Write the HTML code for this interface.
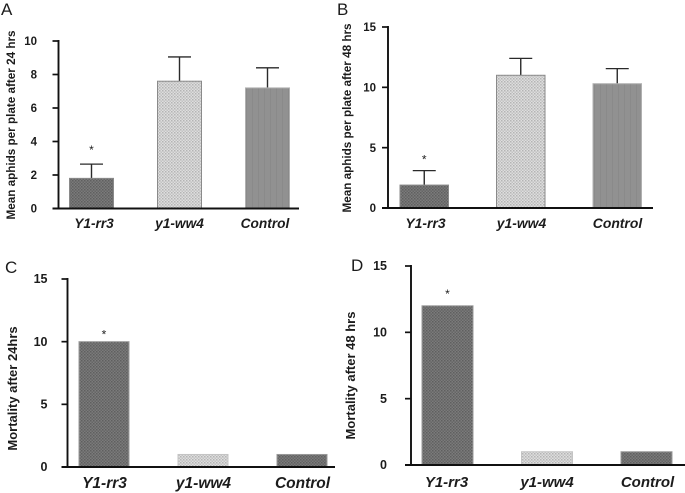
<!DOCTYPE html>
<html lang="en">
<head>
<meta charset="utf-8">
<title>Aphid counts and mortality</title>
<style>
html,body{margin:0;padding:0;background:#fff}
svg{display:block;filter:blur(0.35px)}
text{font-family:"Liberation Sans",sans-serif;fill:#1c1c1c}
.tick{font-weight:700;text-anchor:end}
.cat{font-weight:700;font-style:italic;text-anchor:middle}
.title{font-weight:700;text-anchor:middle}
.letter{font-size:17px}
.star{font-size:12px;text-anchor:middle}
</style>
</head>
<body>
<svg id="fig" width="685" height="493" viewBox="0 0 685 493" xmlns="http://www.w3.org/2000/svg">
<defs>
<pattern id="p-dark" width="3" height="3" patternUnits="userSpaceOnUse"><rect width="3" height="3" fill="#7b7b7b"/><rect x="0" y="0" width="1.5" height="1.5" fill="#5f5f5f"/><rect x="1.5" y="1.5" width="1.5" height="1.5" fill="#666"/></pattern>
<pattern id="p-light" width="3" height="3" patternUnits="userSpaceOnUse"><rect width="3" height="3" fill="#dedede"/><rect x="0" y="0" width="1.5" height="1.5" fill="#b4b4b4"/><rect x="1.5" y="1.5" width="1.5" height="1.5" fill="#c2c2c2"/></pattern>
<pattern id="p-mid" width="6" height="6" patternUnits="userSpaceOnUse"><rect width="6" height="6" fill="#919191"/><rect x="0" y="0" width="1" height="6" fill="#8a8a8a"/></pattern>
</defs>
</svg>
<script>
const categories = ['Y1-rr3', 'y1-ww4', 'Control'];
const valuesA = [1.8, 7.6, 7.2];
const errorTopsA = [2.65, 9.05, 8.4];
const ticksA = [0, 2, 4, 6, 8, 10];
const valuesB = [1.9, 11, 10.3];
const errorTopsB = [3.1, 12.4, 11.55];
const ticksB = [0, 5, 10, 15];
const valuesC = [10, 1, 1];
const ticksC = [0, 5, 10, 15];
const valuesD = [12, 1, 1];
const ticksD = [0, 5, 10, 15];

const NS = 'http://www.w3.org/2000/svg';
const fig = document.getElementById('fig');

function add(parent, tag, attrs, text) {
  const el = document.createElementNS(NS, tag);
  for (const k in attrs) el.setAttribute(k, attrs[k]);
  if (text !== undefined) el.textContent = text;
  parent.appendChild(el);
  return el;
}

function drawPanel(cfg) {
  const g = add(fig, 'g', {});
  
  

  const maxTick = cfg.ticks[cfg.ticks.length - 1];
  const yScale = v => cfg.y0 - (v / maxTick) * (cfg.y0 - cfg.yTop);
  const barX = i => cfg.barStart + i * cfg.barStep;
  const barMid = i => barX(i) + cfg.barW / 2;

  const letter = add(g, 'text', {class: 'letter', x: cfg.letterX, y: cfg.letterY}, cfg.letter);
  
  

  cfg.values.forEach((v, i) => {
    if (cfg.errors) {
      const stem = add(g, 'line', {x1: barMid(i), x2: barMid(i), y1: yScale(v), y2: yScale(cfg.errors[i]), stroke: '#2a2a2a', 'stroke-width': 1.4});
      
      
      const cap = add(g, 'line', {x1: barMid(i) - 11.5, x2: barMid(i) + 11.5, y1: yScale(cfg.errors[i]), y2: yScale(cfg.errors[i]), stroke: '#2a2a2a', 'stroke-width': 1.3});
      
      
    }
    const bar = add(g, 'rect', {
      x: barX(i), y: yScale(v), width: cfg.barW, height: cfg.y0 - yScale(v),
      fill: 'url(#' + cfg.fills[i] + ')', stroke: cfg.strokes[i], 'stroke-width': 1
    });
    
    

    const cat = add(g, 'text', {class: 'cat', x: cfg.catStart + i * cfg.catStep, y: cfg.catY, style: 'font-size:' + cfg.catSize + 'px'}, categories[i]);
    
    
  });

  const star = add(g, 'text', {class: 'star', x: barMid(0), y: yScale(cfg.errors ? cfg.errors[0] : cfg.values[0]) - cfg.starGap}, '*');
  
  

  const yAxis = add(g, 'line', {x1: cfg.axisX, x2: cfg.axisX, y1: cfg.yTop - 1, y2: cfg.y0 + 1, stroke: '#111', 'stroke-width': 1.9});
  
  
  const xAxis = add(g, 'line', {x1: cfg.axisX - 6, x2: cfg.xEnd, y1: cfg.y0, y2: cfg.y0, stroke: '#111', 'stroke-width': 1.9});
  
  

  cfg.ticks.forEach(t => {
    const mark = add(g, 'line', {x1: cfg.axisX - 6, x2: cfg.axisX, y1: yScale(t), y2: yScale(t), stroke: '#111', 'stroke-width': 1.7});
    
    
    const label = add(g, 'text', {class: 'tick', x: cfg.axisX - cfg.tickGap, y: yScale(t) + 4.2, style: 'font-size:' + cfg.tickSize + 'px'}, t);
    
    
  });

  const title = add(g, 'text', {
    class: 'title', x: 0, y: 0,
    transform: 'translate(' + cfg.titleX + ',' + cfg.titleY + ') rotate(-90)',
    style: 'font-size:' + cfg.titleSize + 'px'
  }, cfg.title);
  
  
}

const strokesTop = ['#8a8a8a', '#8a8a8a', '#b0b0b0'];
const strokesBottom = ['#999', '#c4c4c4', '#999'];

drawPanel({letter: 'A', letterX: 1, letterY: 15, axisX: 58.5, xEnd: 299, yTop: 41, y0: 208.5,
  barStart: 69.5, barStep: 88, barW: 44, values: valuesA, errors: errorTopsA, ticks: ticksA,
  fills: ['p-dark', 'p-light', 'p-mid'], strokes: strokesTop,
  catStart: 94, catStep: 85.5, catY: 228, catSize: 13.7, tickGap: 21.5, tickSize: 11.5, starGap: 10,
  title: 'Mean aphids per  plate after 24 hrs', titleX: 15, titleY: 125, titleSize: 11.7});

drawPanel({letter: 'B', letterX: 337, letterY: 15, axisX: 388, xEnd: 653, yTop: 27, y0: 208,
  barStart: 400, barStep: 96.5, barW: 48.5, values: valuesB, errors: errorTopsB, ticks: ticksB,
  fills: ['p-dark', 'p-light', 'p-mid'], strokes: strokesTop,
  catStart: 425.5, catStep: 96, catY: 228, catSize: 13.9, tickGap: 12, tickSize: 11.5, starGap: 7,
  title: 'Mean aphids per  plate after 48 hrs', titleX: 351, titleY: 118, titleSize: 11.7});

drawPanel({letter: 'C', letterX: 5, letterY: 273, axisX: 67.5, xEnd: 335, yTop: 279, y0: 467,
  barStart: 79, barStep: 99, barW: 50, values: valuesC, errors: null, ticks: ticksC,
  fills: ['p-dark', 'p-light', 'p-dark'], strokes: strokesBottom,
  catStart: 104.5, catStep: 99, catY: 488, catSize: 15.5, tickGap: 20, tickSize: 12.5, starGap: 3,
  title: 'Mortality after 24hrs', titleX: 17, titleY: 388.5, titleSize: 13});

drawPanel({letter: 'D', letterX: 351, letterY: 271, axisX: 411, xEnd: 685, yTop: 266, y0: 465,
  barStart: 422, barStep: 99.5, barW: 51, values: valuesD, errors: null, ticks: ticksD,
  fills: ['p-dark', 'p-light', 'p-dark'], strokes: strokesBottom,
  catStart: 446.5, catStep: 100.5, catY: 487, catSize: 15, tickGap: 24, tickSize: 12.5, starGap: 8,
  title: 'Mortality after 48 hrs', titleX: 355, titleY: 375.5, titleSize: 13});
</script>
</body>
</html>
